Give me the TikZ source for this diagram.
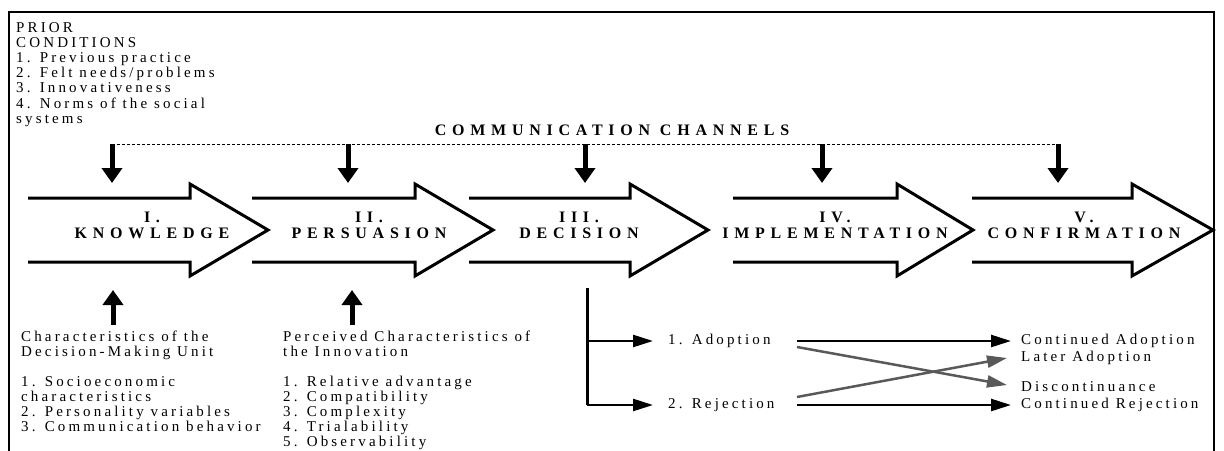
\documentclass[tikz,border=0pt]{standalone}
\usepackage{fontspec}
\setmainfont{Liberation Serif}
\newfontfamily\bodyfont[LetterSpace=21]{Liberation Serif}
\newfontfamily\stagefont[LetterSpace=36]{Liberation Serif}
\usetikzlibrary{arrows.meta}
\begin{document}
\begin{tikzpicture}[x=1pt,y=-1pt,
  frameline/.style={line width=2pt},
  bigarrow/.style={line width=3pt,line join=miter},
  channelline/.style={line width=0.8pt,dash pattern=on 3pt off 2pt},
  downarr/.style={line width=5pt,-{Triangle[length=15pt,width=20pt]}},
  branchline/.style={line width=3pt},
  blackarr/.style={line width=2.5pt,-{Triangle[length=20pt,width=12pt]}},
  greyarr/.style={line width=2.5pt,draw=black!65,-{Triangle[length=20pt,width=12pt]}},
  txt/.style={font=\bodyfont\fontsize{15}{15.2}\selectfont,inner sep=0pt,align=left},
  stage/.style={font=\stagefont\bfseries\fontsize{16}{16}\selectfont,inner sep=0pt,align=center}]
\useasboundingbox (0,0) rectangle (1224,450);

% outer frame, open at the bottom
\draw[frameline] (9,452) -- (9,12) -- (1214,12) -- (1214,452);

% prior conditions
\node[txt,anchor=north west] (prior) at (16,22)
  {PRIOR\\CONDITIONS\\1. Previous practice\\2. Felt needs/problems\\3. Innovativeness\\4. Norms of the social\\systems};

% communication channels
\node[stage] (channels) at (612,130) {COMMUNICATION CHANNELS};
\foreach \x [count=\i] in {112,348,585,822,1058} {
  \coordinate (c\i) at (\x,144);
  \coordinate (s\i) at (\x,183);
}
\draw[channelline] (c1) -- (c5);
\foreach \i in {1,...,5} {
  \draw[downarr] (c\i) -- (s\i);
}

% the five stage arrows (open tails)
\foreach \xl/\xh/\xt in {28/190/268, 252/415/493, 469/630/708, 733/897/973, 972/1132/1213} {
  \draw[bigarrow] (\xl,198) -- (\xh,198) -- (\xh,184) -- (\xt,230) -- (\xh,276) -- (\xh,262) -- (\xl,262);
}
\node[stage] (knowledge) at (152,225) {I.\\KNOWLEDGE};
\node[stage] (persuasion) at (369,225) {II.\\PERSUASION};
\node[stage] (decision) at (579,225) {III.\\DECISION};
\node[stage] (implementation) at (835,225) {IV.\\IMPLEMENTATION};
\node[stage] (confirmation) at (1084,225) {V.\\CONFIRMATION};

% antecedent inputs
\coordinate (u1a) at (113,325);
\coordinate (u1b) at (113,290);
\coordinate (u2a) at (352,325);
\coordinate (u2b) at (352,290);
\draw[downarr] (u1a) -- (u1b);
\draw[downarr] (u2a) -- (u2b);

\node[txt,anchor=north west] (dmu) at (21,331)
  {Characteristics of the\\Decision-Making Unit\\[14pt]1. Socioeconomic\\characteristics\\2. Personality variables\\3. Communication behavior};
\node[txt,anchor=north west] (perceived) at (283,331)
  {Perceived Characteristics of\\the Innovation\\[14pt]1. Relative advantage\\2. Compatibility\\3. Complexity\\4. Trialability\\5. Observability};

% decision outcomes
\node[txt,anchor=west] (adopt) at (668,341) {1. Adoption};
\node[txt,anchor=west] (reject) at (668,405) {2. Rejection};
\node[txt,anchor=west] (contA) at (1021,341) {Continued Adoption};
\node[txt,anchor=west] (later) at (1021,358) {Later Adoption};
\node[txt,anchor=west] (discont) at (1021,387) {Discontinuance};
\node[txt,anchor=west] (contR) at (1021,405) {Continued Rejection};

\coordinate (dtop) at (587,288);
\coordinate (dmid) at (587,341);
\coordinate (dbot) at (587,405);
\draw[branchline] (dtop) -- (dbot);
\draw[blackarr] (dmid) -- ([xshift=-15pt]adopt.west);
\draw[blackarr] (dbot) -- ([xshift=-15pt]reject.west);

\coordinate (aout) at (797,341);
\coordinate (aoutg) at (797,347);
\coordinate (rout) at (797,405);
\coordinate (routg) at (797,397);
\draw[blackarr] (aout) -- ([xshift=-10pt]contA.west);
\draw[blackarr] (rout) -- ([xshift=-10pt]contR.west);
\draw[greyarr] (aoutg) -- ([xshift=-14pt,yshift=2pt]discont.west);
\draw[greyarr] (routg) -- ([xshift=-14pt]later.west);
\end{tikzpicture}
\end{document}
